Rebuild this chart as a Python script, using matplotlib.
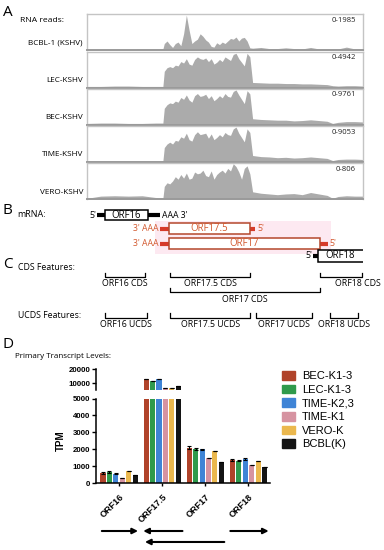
import numpy as np
import matplotlib.pyplot as plt
from matplotlib.patches import Rectangle

W, H = 384, 550
SANS = 'Open Sans'
ARIAL = 'Liberation Sans'

# ---------------- Panel A: read coverage ----------------
track_names = ['BCBL-1 (KSHV)', 'LEC-KSHV', 'BEC-KSHV', 'TIME-KSHV', 'VERO-KSHV']
track_ranges = ['0-1985', '0-4942', '0-9761', '0-9053', '0-806']

# position along the locus (% of window)
pos = [0, 5, 10, 15, 20, 25, 27.5,
       28, 29, 30, 31, 32, 33, 34, 35, 36, 37, 38, 39, 40, 41, 42, 43,
       44, 45, 46, 47, 48, 49, 50, 51, 52, 53, 54, 55, 56, 57, 58, 59,
       60, 63, 66, 69, 72, 75, 78, 81, 84, 87, 89, 91, 94, 97, 100]

cov_bcbl = [0.01, 0.015, 0.02, 0.02, 0.025, 0.03, 0.03,
            0.18, 0.25, 0.15, 0.07, 0.18, 0.22, 0.12, 0.45, 0.97, 0.55, 0.18, 0.25,
            0.30, 0.45, 0.38, 0.28, 0.22, 0.10, 0.08, 0.20, 0.15, 0.22, 0.18, 0.25,
            0.32, 0.30, 0.36, 0.25, 0.33, 0.35, 0.25, 0.06,
            0.05, 0.07, 0.04, 0.04, 0.06, 0.04, 0.03, 0.07, 0.03, 0.03, 0.03, 0.03,
            0.08, 0.03, 0.03]
cov_lec = [0.03, 0.03, 0.04, 0.04, 0.03, 0.03, 0.03,
           0.45, 0.55, 0.58, 0.55, 0.62, 0.60, 0.72, 0.68, 0.80, 0.65, 0.62, 0.78,
           0.85, 0.80, 0.78, 0.82, 0.72, 0.80, 0.65, 0.70, 0.78, 0.72, 0.85, 0.80,
           0.75, 0.92, 0.95, 0.80, 0.70, 0.60, 0.95, 0.85,
           0.14, 0.13, 0.12, 0.12, 0.11, 0.11, 0.10, 0.10, 0.09, 0.08, 0.05, 0.04,
           0.05, 0.05, 0.04]
cov_bec = [0.03, 0.04, 0.04, 0.03, 0.03, 0.04, 0.04,
           0.45, 0.55, 0.60, 0.58, 0.65, 0.62, 0.75, 0.70, 0.82, 0.68, 0.62, 0.80,
           0.86, 0.78, 0.80, 0.84, 0.72, 0.80, 0.66, 0.72, 0.80, 0.74, 0.86, 0.78,
           0.76, 0.92, 0.96, 0.82, 0.70, 0.58, 0.94, 0.85,
           0.16, 0.14, 0.13, 0.12, 0.12, 0.10, 0.11, 0.13, 0.11, 0.09, 0.03, 0.06,
           0.08, 0.08, 0.07]
cov_time = [0.03, 0.03, 0.03, 0.03, 0.03, 0.03, 0.03,
            0.40, 0.50, 0.55, 0.50, 0.60, 0.58, 0.70, 0.66, 0.80, 0.62, 0.58, 0.76,
            0.84, 0.76, 0.78, 0.80, 0.66, 0.78, 0.62, 0.68, 0.76, 0.70, 0.82, 0.76,
            0.74, 0.92, 0.97, 0.80, 0.68, 0.56, 0.92, 0.82,
            0.18, 0.15, 0.14, 0.12, 0.13, 0.11, 0.12, 0.14, 0.12, 0.10, 0.04, 0.07,
            0.08, 0.08, 0.07]
cov_vero = [0.02, 0.08, 0.09, 0.08, 0.09, 0.04, 0.02,
            0.35, 0.45, 0.42, 0.50, 0.62, 0.55, 0.68, 0.58, 0.72, 0.55, 0.58, 0.75,
            0.70, 0.72, 0.80, 0.65, 0.62, 0.78, 0.55, 0.68, 0.75, 0.80, 0.72, 0.85,
            0.78, 0.98, 0.90, 0.75, 0.55, 0.85, 0.92, 0.70,
            0.20, 0.16, 0.14, 0.12, 0.14, 0.15, 0.12, 0.18, 0.14, 0.10, 0.02, 0.07,
            0.09, 0.08, 0.08]
coverage = [cov_bcbl, cov_lec, cov_bec, cov_time, cov_vero]

# ---------------- Panel B: transcripts (same % coordinates) ----------------
mrna_names = ['ORF16', 'ORF17.5', 'ORF17', 'ORF18']
mrna_start = [3.6, 26.4, 26.4, 81.9]
mrna_end = [26.4, 60.9, 87.3, 102]
box_start = [6.5, 29.7, 29.7, 83.7]
box_end = [22.1, 59.1, 84.4, 102]
mrna_strand = ['+', '-', '-', '+']

# ---------------- Panel C: features ----------------
cds_labels = ['ORF16 CDS', 'ORF17.5 CDS', 'ORF17 CDS', 'ORF18 CDS']
cds_lo = [6.5, 30.1, 30.1, 84.4]
cds_hi = [21.0, 59.1, 84.4, 99.6]
cds_row = [0, 0, 1, 0]
ucds_labels = ['ORF16 UCDS', 'ORF17.5 UCDS', 'ORF17 UCDS', 'ORF18 UCDS']
ucds_lo = [6.5, 30.1, 61.2, 88.0]
ucds_hi = [21.7, 59.1, 81.5, 98.2]

# ---------------- Panel D: TPM ----------------
genes = ['ORF16', 'ORF17.5', 'ORF17', 'ORF18']
samples = ['BEC-K1-3', 'LEC-K1-3', 'TIME-K2,3', 'TIME-K1', 'VERO-K', 'BCBL(K)']
tpm_bec = [595, 12900, 2080, 1370]
tpm_lec = [650, 11400, 2020, 1330]
tpm_time23 = [535, 12900, 2000, 1430]
tpm_time1 = [300, 6400, 1490, 1070]
tpm_vero = [715, 6400, 1900, 1330]
tpm_bcbl = [475, 7900, 1250, 960]
err_bec = [40, 300, 90, 40]
err_lec = [35, 250, 40, 40]
err_time23 = [30, 250, 40, 50]
err_time1 = [0, 0, 0, 0]
err_vero = [0, 0, 0, 0]
err_bcbl = [0, 0, 0, 0]
tpm = [tpm_bec, tpm_lec, tpm_time23, tpm_time1, tpm_vero, tpm_bcbl]
errs = [err_bec, err_lec, err_time23, err_time1, err_vero, err_bcbl]
sample_colors = ['#B0432A', '#2F9A4C', '#3F84D6', '#D693A1', '#EBB84E', '#141414']

# transcript direction arrows under the bar chart
arrow_start = [-0.40, 1.47, 2.44, 2.58]
arrow_end = [0.44, 0.56, 0.60, 3.47]
arrow_row = [0, 0, 1, 0]


fig = plt.figure(figsize=(W / 100, H / 100), dpi=100)


def px_axes(x0, y0, x1, y1):
    return fig.add_axes([x0 / W, 1 - y1 / H, (x1 - x0) / W, (y1 - y0) / H])


def ftext(x, y, s, **kw):
    kw.setdefault('family', SANS)
    kw.setdefault('va', 'center')
    fig.text(x / W, 1 - y / H, s, **kw)


# panel letters and headers
ftext(3, 13, 'A', fontsize=11)
ftext(20, 20, 'RNA reads:', fontsize=6.1)
ftext(3, 210, 'B', fontsize=11)
ftext(17, 214, 'mRNA:', fontsize=6.5)
ftext(3, 265, 'C', fontsize=11)
ftext(18, 268, 'CDS Features:', fontsize=6.3)
ftext(18, 316, 'UCDS Features:', fontsize=6.3)
ftext(3, 345, 'D', fontsize=11)
ftext(15, 356, 'Primary Transcript Levels:', fontsize=5.8)

# ---- A
track_tops = [14, 51.5, 88.5, 126, 163]
for name, rng, cov, top in zip(track_names, track_ranges, coverage, track_tops):
    ax = px_axes(87, top, 363, top + 36)
    ax.fill_between(pos, cov, 0, color='#ababab', lw=0)
    ax.set_xlim(0, 100)
    ax.set_ylim(0, 1.0)
    ax.set_xticks([])
    ax.set_yticks([])
    for s in ax.spines.values():
        s.set_color('#c4c4c4')
        s.set_linewidth(1.0)
    ax.spines['bottom'].set_color('#9a9a9a')
    ax.spines['bottom'].set_linewidth(1.4)
    ax.text(0.975, 0.83, rng, transform=ax.transAxes, ha='right', va='center',
            fontsize=5.5, family=SANS, color='#222222')
    ftext(83, top + 29, name, ha='right', fontsize=5.9)

# ---- B and C on the locus coordinates
mp = px_axes(87, 200, 363, 340)
mp.set_xlim(0, 100)
mp.set_ylim(340, 200)
mp.axis('off')

red_line = '#D63A2A'
red_edge = '#B4482C'
red_text = '#D2582E'
row_y = [215, 228.5, 243.5, 255.5]
box_h = [10, 11, 11, 12]

mp.add_patch(Rectangle((24.5, 221), 64, 33, facecolor='#fde9f1', edgecolor='none', zorder=0))

for i, name in enumerate(mrna_names):
    y = row_y[i]
    black = (mrna_strand[i] == '+')
    lc = 'black' if black else red_line
    ec = 'black' if black else red_edge
    tc = 'black' if black else red_text
    mp.plot([mrna_start[i], box_start[i]], [y, y], color=lc, lw=3, solid_capstyle='butt')
    mp.plot([box_end[i], mrna_end[i]], [y, y], color=lc, lw=3, solid_capstyle='butt')
    mp.add_patch(Rectangle((box_start[i], y - box_h[i] / 2), box_end[i] - box_start[i], box_h[i],
                           facecolor='white', edgecolor=ec, lw=1.1, zorder=3))
    bx = (box_start[i] + min(box_end[i], 100)) / 2
    mp.text(bx, y, name, ha='center', va='center', fontsize=6.9, family=SANS,
            color=tc, zorder=4)
    if mrna_strand[i] == '+':
        mp.text(mrna_start[i] - 0.4, y, "5'", ha='right', va='center', fontsize=6.3,
                family=SANS, color=tc)
        if mrna_end[i] < 100:
            mp.text(mrna_end[i] + 0.6, y, "AAA 3'", ha='left', va='center', fontsize=6.3,
                    family=SANS, color=tc)
    else:
        mp.text(mrna_start[i] - 0.6, y, "3' AAA", ha='right', va='center', fontsize=6.3,
                family=SANS, color=tc)
        mp.text(mrna_end[i] + 0.7, y, "5'", ha='left', va='center', fontsize=6.3,
                family=SANS, color=tc)


def bracket(lo, hi, y, label, lab_x=None, ha='center'):
    mp.plot([lo, lo, hi, hi], [y - 4.5, y, y, y - 4.5], color='black', lw=0.9,
            clip_on=False)
    if lab_x is None:
        lab_x = (lo + hi) / 2
    mp.text(lab_x, y + 7, label, ha=ha, va='center', fontsize=6.3, family=SANS,
            clip_on=False)


cds_line_y = [277, 292]
for lab, lo, hi, r in zip(cds_labels, cds_lo, cds_hi, cds_row):
    if hi > 99:
        bracket(lo, hi, cds_line_y[r], lab, lab_x=106.5, ha='right')
    else:
        bracket(lo, hi, cds_line_y[r], lab)
for lab, lo, hi in zip(ucds_labels, ucds_lo, ucds_hi):
    bracket(lo, hi, 317.5, lab)

# ---- D: broken-axis bar chart
lo_ax = px_axes(96, 398.5, 270, 483)
hi_ax = px_axes(96, 369, 270, 390)
x = np.arange(len(genes))
pitch, width = 0.149, 0.117
for ax in (lo_ax, hi_ax):
    for j, (vals, e, c) in enumerate(zip(tpm, errs, sample_colors)):
        xs = x + (j - 2.5) * pitch
        ax.bar(xs, vals, width=width, color=c, label=samples[j], zorder=2)
        ax.errorbar(xs, vals, yerr=e, fmt='none', ecolor='black', elinewidth=0.8,
                    capsize=1.3, capthick=0.8, zorder=3)
    ax.set_xlim(-0.535, 3.5)
    for s in ('top', 'right'):
        ax.spines[s].set_visible(False)
    ax.spines['left'].set_linewidth(1.1)
    ax.tick_params(axis='y', length=3, width=1.0, pad=1, labelsize=5.7)

lo_ax.set_ylim(0, 5000)
lo_ax.set_yticks([0, 1000, 2000, 3000, 4000, 5000])
lo_ax.spines['bottom'].set_linewidth(1.1)
lo_ax.set_xticks(x)
lo_ax.set_xticklabels(genes, rotation=45, ha='right', rotation_mode='anchor',
                      fontsize=6.5, fontweight='bold', family=ARIAL)
lo_ax.tick_params(axis='x', length=2.5, width=1.0, pad=4)
lo_ax.set_ylabel('TPM', fontsize=7, fontweight='bold', family=ARIAL, labelpad=5)

hi_ax.set_ylim(5000, 20000)
hi_ax.set_yticks([10000, 20000])
hi_ax.spines['bottom'].set_visible(False)
hi_ax.set_xticks([])
for ax in (lo_ax, hi_ax):
    for t in ax.get_yticklabels():
        t.set_fontfamily(ARIAL)
        t.set_fontweight('bold')

handles = [Rectangle((0, 0), 1, 1, color=c) for c in sample_colors]
fig.legend(handles, samples, loc='upper left', bbox_to_anchor=(282 / W, 1 - 371 / H),
           frameon=False, prop={'family': ARIAL, 'size': 8}, handlelength=1.2,
           handleheight=0.8, handletextpad=0.6, labelspacing=0.32, borderpad=0,
           borderaxespad=0)

# arrows
ar = px_axes(96, 522, 270, 550)
ar.set_xlim(-0.535, 3.5)
ar.set_ylim(1.73, -0.82)
ar.axis('off')
for s0, s1, r in zip(arrow_start, arrow_end, arrow_row):
    ar.annotate('', xy=(s1, r), xytext=(s0, r),
                arrowprops=dict(arrowstyle='-|>', lw=1.5, color='black',
                                mutation_scale=8, shrinkA=0, shrinkB=0))

fig.savefig('out.png', dpi=100)
